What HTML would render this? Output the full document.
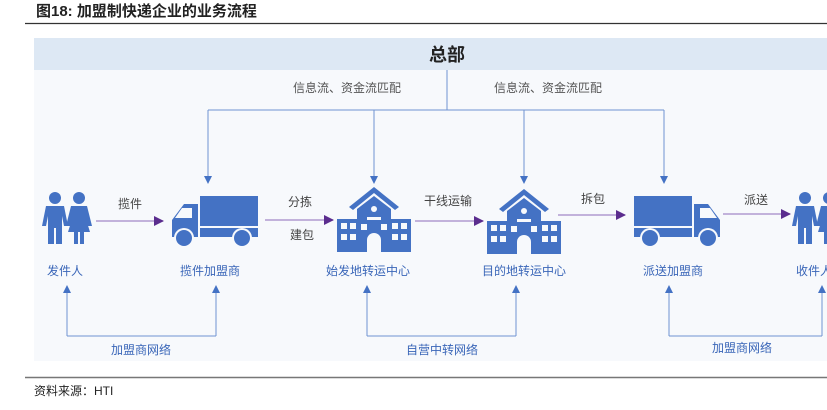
<!DOCTYPE html>
<html><head><meta charset="utf-8"><style>
body{margin:0;width:827px;height:405px;background:#fff;overflow:hidden;font-family:"Liberation Sans","Noto Sans CJK SC",sans-serif}
</style></head><body>
<svg width="827" height="405" viewBox="0 0 827 405" xmlns="http://www.w3.org/2000/svg" font-family="'Liberation Sans','Noto Sans CJK SC',sans-serif">
<defs>
<marker id="ab" markerWidth="8" markerHeight="8" refX="7" refY="4" orient="auto" markerUnits="userSpaceOnUse"><path d="M0,0 L8,4 L0,8 z" fill="#4472c4"/></marker>
<marker id="ap" markerWidth="10" markerHeight="10" refX="9" refY="5" orient="auto" markerUnits="userSpaceOnUse"><path d="M0,0 L10,5 L0,10 z" fill="#5b2d8e"/></marker>
<g id="ppl" fill="#4472c4">
<circle cx="10" cy="6" r="6"/><path d="M1,14 h18 l4,20 h-4 l-2,-10 v28 h-6 v-16 h-2 v16 h-6 v-28 l-2,10 h-4 z"/>
<circle cx="34" cy="6" r="6"/><path d="M26,14 h16 l5,20 h-4 l-3,-10 l5,16 h-6 v12 h-4 v-12 h-2 v12 h-4 v-12 h-6 l5,-16 l-3,10 h-4 z"/>
</g>
<g id="trk" fill="#4472c4">
<rect x="30" y="0" width="58" height="30"/><rect x="30" y="32" width="58" height="9"/>
<path d="M28,8 h-14 l-12,16 v17 h26 z"/><path d="M12,12 h10 v10 h-17 z" fill="#f7f9fc"/>
<circle cx="14" cy="42" r="10" fill="#f7f9fc"/><circle cx="72" cy="42" r="10" fill="#f7f9fc"/>
<circle cx="14" cy="42" r="8"/><circle cx="72" cy="42" r="8"/>
</g>
<g id="sch" fill="#4472c4">
<path d="M37,0 L62,20 L58,23 L37,6 L16,23 L12,20 z"/>
<path d="M20,22 L37,9 L54,22 v10 h20 v33 h-74 v-33 h20 z"/>
<g fill="#f7f9fc"><circle cx="37" cy="22" r="3"/><rect x="30" y="30" width="14" height="3"/>
<rect x="4" y="36" width="6" height="6"/><rect x="13" y="36" width="6" height="6"/><rect x="55" y="36" width="6" height="6"/><rect x="64" y="36" width="6" height="6"/>
<rect x="4" y="47" width="6" height="6"/><rect x="13" y="47" width="6" height="6"/><rect x="55" y="47" width="6" height="6"/><rect x="64" y="47" width="6" height="6"/>
<rect x="24" y="37" width="6" height="6"/><rect x="44" y="37" width="6" height="6"/>
<path d="M30,65 v-12 a7,7 0 0 1 14,0 v12 z"/></g>
</g>
</defs>
<text x="36" y="16" font-size="15" font-weight="bold" fill="#222">图18:  加盟制快递企业的业务流程</text>
<line x1="25" y1="23.5" x2="827" y2="23.5" stroke="#333" stroke-width="1.2"/>
<rect x="34" y="38" width="793" height="323" fill="#f7f9fc"/>
<rect x="34" y="38" width="793" height="32" fill="#dde8f4"/>
<text x="447" y="61" font-size="18" font-weight="bold" text-anchor="middle" fill="#222">总部</text>
<g font-size="12" fill="#555" text-anchor="middle">
<text x="347" y="92">信息流、资金流匹配</text>
<text x="548" y="92">信息流、资金流匹配</text>
</g>
<g stroke="#6f94d2" stroke-width="1" fill="none">
<line x1="447" y1="70" x2="447" y2="110"/>
<line x1="208" y1="110" x2="664" y2="110"/>
<line x1="208" y1="110" x2="208" y2="183" marker-end="url(#ab)"/>
<line x1="374" y1="110" x2="374" y2="183" marker-end="url(#ab)"/>
<line x1="524" y1="110" x2="524" y2="183" marker-end="url(#ab)"/>
<line x1="664" y1="110" x2="664" y2="183" marker-end="url(#ab)"/>
<path d="M67,336 H216"/><path d="M367,336 H516"/><path d="M669,336 H822"/>
<line x1="67" y1="336" x2="67" y2="286" marker-end="url(#ab)"/>
<line x1="216" y1="336" x2="216" y2="286" marker-end="url(#ab)"/>
<line x1="367" y1="336" x2="367" y2="286" marker-end="url(#ab)"/>
<line x1="516" y1="336" x2="516" y2="286" marker-end="url(#ab)"/>
<line x1="669" y1="336" x2="669" y2="286" marker-end="url(#ab)"/>
<line x1="822" y1="336" x2="822" y2="286" marker-end="url(#ab)"/>
</g>
<g stroke="#b09bd0" stroke-width="1.5">
<line x1="96" y1="221" x2="163" y2="221" marker-end="url(#ap)"/>
<line x1="265" y1="220" x2="333" y2="220" marker-end="url(#ap)"/>
<line x1="415" y1="221" x2="483" y2="221" marker-end="url(#ap)"/>
<line x1="558" y1="215" x2="625" y2="215" marker-end="url(#ap)"/>
<line x1="723" y1="214" x2="790" y2="214" marker-end="url(#ap)"/>
</g>
<g font-size="12" fill="#444" text-anchor="middle">
<text x="130" y="208">揽件</text>
<text x="300" y="206">分拣</text>
<text x="302" y="239">建包</text>
<text x="448" y="205">干线运输</text>
<text x="593" y="203">拆包</text>
<text x="756" y="204">派送</text>
</g>
<use href="#ppl" x="45" y="192"/>
<use href="#trk" x="170" y="196"/>
<use href="#sch" x="337" y="187"/>
<use href="#sch" x="487" y="189"/>
<g transform="translate(722,196) scale(-1,1)"><use href="#trk"/></g>
<use href="#ppl" x="795" y="192"/>
<g font-size="12" fill="#3a66b8" text-anchor="middle">
<text x="65" y="275">发件人</text>
<text x="210" y="275">揽件加盟商</text>
<text x="368" y="275">始发地转运中心</text>
<text x="524" y="275">目的地转运中心</text>
<text x="673" y="275">派送加盟商</text>
<text x="814" y="275">收件人</text>
<text x="141" y="354">加盟商网络</text>
<text x="442" y="354">自营中转网络</text>
<text x="742" y="352">加盟商网络</text>
</g>
<line x1="25" y1="377.5" x2="827" y2="377.5" stroke="#777" stroke-width="1.5"/>
<text x="34" y="395" font-size="12" fill="#222">资料来源：HTI</text>
</svg>
</body></html>
